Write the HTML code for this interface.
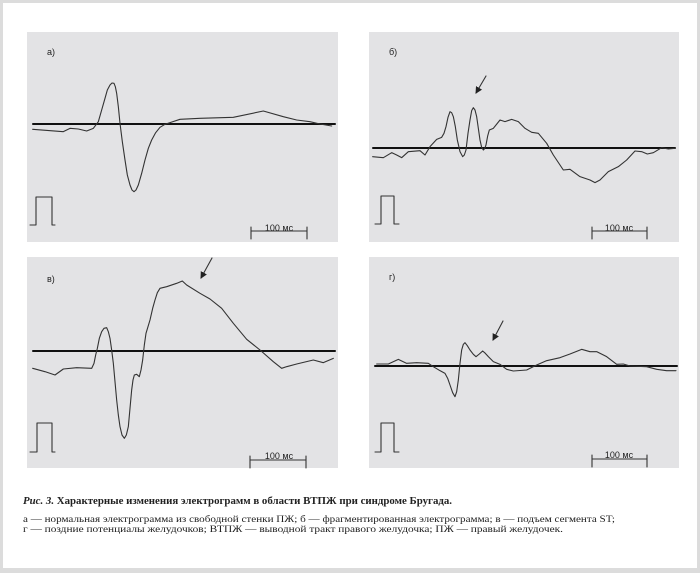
<!DOCTYPE html>
<html><head><meta charset="utf-8"><style>
html,body{margin:0;padding:0;background:#fff}
svg{display:block}
</style></head><body>
<svg width="700" height="573" viewBox="0 0 700 573" xmlns="http://www.w3.org/2000/svg">
<rect x="0" y="0" width="700" height="573" fill="#dcdcdc"/>
<rect x="3" y="3" width="694" height="565" fill="#fff"/>
<g fill="#e3e3e5">
<rect x="27" y="32" width="311" height="210"/>
<rect x="369" y="32" width="310" height="210"/>
<rect x="27" y="257" width="311" height="211"/>
<rect x="369" y="257" width="310" height="211"/>
</g>
<defs>
<marker id="ah" markerWidth="8" markerHeight="8" refX="6" refY="4" orient="auto" markerUnits="userSpaceOnUse"><path d="M0,0.5 L7,4 L0,7.5 Z" fill="#222"/></marker>
</defs>
<g font-family="Liberation Sans, sans-serif" font-size="9" fill="#222">
<text x="47" y="55">а)</text>
<text x="389" y="55">б)</text>
<text x="47" y="282">в)</text>
<text x="389" y="280">г)</text>
<text x="279" y="231" text-anchor="middle">100 мс</text>
<text x="619" y="231" text-anchor="middle">100 мс</text>
<text x="279" y="459" text-anchor="middle">100 мс</text>
<text x="619" y="458" text-anchor="middle">100 мс</text>
</g>
<g fill="none" stroke="#333" stroke-width="1.1" stroke-linejoin="round" stroke-linecap="round">
<line x1="33" y1="124" x2="335" y2="124" stroke="#111" stroke-width="2"/>
<path d="M30,225 H36 V197 H52 V225 H55"/>
<path d="M251,231 H307 M251,227 V239 M307,227 V239"/>
<line x1="373" y1="148" x2="675" y2="148" stroke="#111" stroke-width="2"/>
<path d="M375,224 H381 V196 H394 V224 H399"/>
<path d="M592,231 H647 M592,227 V239 M647,227 V239"/>
<line x1="486" y1="76" x2="476" y2="93" marker-end="url(#ah)"/>
<line x1="33" y1="351" x2="335" y2="351" stroke="#111" stroke-width="2"/>
<path d="M30,452 H37 V423 H52 V452 H55"/>
<path d="M250,460 H306 M250,456 V468 M306,456 V468"/>
<line x1="212" y1="258" x2="201" y2="278" marker-end="url(#ah)"/>
<line x1="375" y1="366" x2="677" y2="366" stroke="#111" stroke-width="2"/>
<path d="M375,452 H381 V423 H394 V452 H399"/>
<path d="M592,459 H647 M592,455 V467 M647,455 V467"/>
<line x1="503" y1="321" x2="493" y2="340" marker-end="url(#ah)"/>
</g>
<g fill="none" stroke="#333" stroke-width="3.3" stroke-linejoin="round" stroke-linecap="round">
<polyline transform="translate(20,20) scale(0.33333)" points="38,328 130,335 150,325 175,327 200,333 220,325 235,305 245,270 255,235 262,210 270,195 276,189 282,190 286,200 290,220 295,260 300,310 307,365 315,420 322,465 330,495 336,510 342,515 348,510 355,495 365,460 375,420 385,385 395,360 407,338 420,322 435,313 450,308 480,298 540,295 640,292 730,273 790,290 830,300 870,305 900,312 935,318"/>
<polyline transform="translate(360,20) scale(0.33333)" points="38,410 70,413 95,398 110,405 125,413 145,395 180,392 195,405 210,380 230,358 245,352 252,340 258,320 264,292 270,275 275,278 280,290 286,320 292,360 300,395 308,410 313,405 318,390 324,340 330,300 335,272 340,263 345,270 350,290 355,325 360,360 365,382 370,390 374,386 378,375 383,348 388,330 400,325 420,300 435,305 455,298 475,305 495,325 515,337 535,340 560,370 580,405 610,450 630,448 660,470 690,480 705,488 720,480 745,455 775,440 800,420 825,393 845,395 862,402 880,398 905,383 925,387 945,385"/>
<polyline transform="translate(20,250) scale(0.33333)" points="38,355 75,365 105,375 130,357 170,353 215,355 222,340 227,315 232,295 238,265 245,245 252,235 260,233 265,245 270,265 275,300 280,340 285,395 290,450 295,495 300,530 306,555 313,565 319,555 325,530 330,475 335,420 339,390 343,375 350,373 358,380 363,360 368,330 373,285 378,250 390,210 398,175 405,150 412,128 420,115 440,110 470,100 487,93 500,105 540,130 570,147 605,175 640,220 680,268 720,300 760,335 785,355 800,350 830,342 880,330 910,338 940,325"/>
<polyline transform="translate(360,250) scale(0.33333)" points="50,342 85,342 115,328 140,340 170,338 205,340 220,350 240,362 255,370 263,385 270,405 278,428 285,440 290,425 295,390 300,340 305,300 310,283 315,278 322,287 330,300 340,313 348,320 358,312 368,303 376,310 385,320 400,335 420,343 440,358 460,363 500,360 530,345 560,332 600,323 630,312 665,298 690,305 710,305 740,320 770,343 790,342 810,348 860,350 890,358 920,362 948,362"/>
</g>
<g font-family="Liberation Serif, serif" fill="#222">
<text x="23" y="504" font-size="10.5" font-weight="bold" textLength="429" lengthAdjust="spacingAndGlyphs"><tspan font-style="italic">Рис. 3.</tspan> Характерные изменения электрограмм в области ВТПЖ при синдроме Бругада.</text>
<text x="23" y="522" font-size="9.5" textLength="592" lengthAdjust="spacingAndGlyphs">а — нормальная электрограмма из свободной стенки ПЖ; б — фрагментированная электрограмма; в — подъем сегмента ST;</text>
<text x="23" y="532" font-size="9.5" textLength="540" lengthAdjust="spacingAndGlyphs">г —  поздние потенциалы желудочков; ВТПЖ — выводной тракт правого желудочка; ПЖ — правый желудочек.</text>
</g>
</svg>
</body></html>
